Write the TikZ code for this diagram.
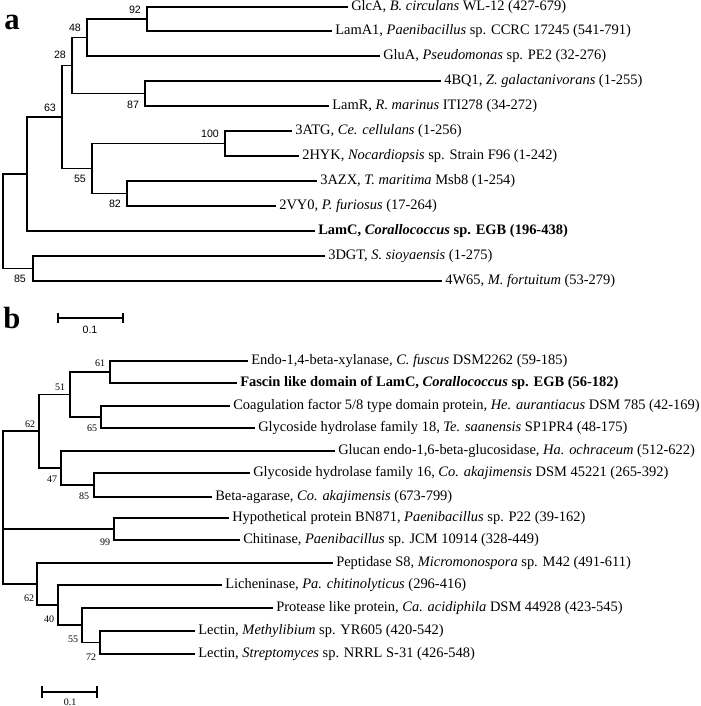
\documentclass[tikz,border=0pt]{standalone}
\usepackage{fontspec}
\setmainfont{Liberation Serif}
\setsansfont{Liberation Sans}
\begin{document}
\begin{tikzpicture}[x=0.75pt,y=-0.75pt,
  br/.style={line width=1pt,line join=miter},
  leaf/.style={anchor=west,inner xsep=2.25pt,inner ysep=0pt,font=\fontsize{10.85}{13}\selectfont,text height=0.7em,text depth=0.2em},
  leafb/.style={leaf},
  bsa/.style={font=\sffamily\fontsize{8}{9}\selectfont,inner sep=0pt},
  bsb/.style={font=\fontsize{7.5}{8.5}\selectfont,inner sep=0pt},
  panel/.style={font=\bfseries\fontsize{23}{25}\selectfont,inner sep=0pt}]
\useasboundingbox (0,0) rectangle (700,706);
% ---------- panel a ----------
\node[panel] (pa) at (12,22) {a};
\coordinate (ra) at (3,221);
\coordinate (a27) at (27,174);
\coordinate (a63) at (62,117);
\coordinate (a28) at (72,65.5);
\coordinate (a48) at (87,37.5);
\coordinate (a92) at (147,19);
\coordinate (a87) at (145,93.5);
\coordinate (a55) at (92,168.5);
\coordinate (a100) at (225,143.5);
\coordinate (a82) at (127,193.5);
\coordinate (a85) at (33,268.5);
\node[leaf] (l1) at (348,7) {GlcA, \textit{B. circulans} WL-12 (427-679)};
\node[leaf] (l2) at (332,31) {LamA1, \textit{Paenibacillus} sp. CCRC 17245 (541-791)};
\node[leaf] (l3) at (380,56) {GluA, \textit{Pseudomonas} sp. PE2 (32-276)};
\node[leaf] (l4) at (441,81) {4BQ1, \textit{Z. galactanivorans} (1-255)};
\node[leaf] (l5) at (329,106) {LamR, \textit{R. marinus} ITI278 (34-272)};
\node[leaf] (l6) at (292,131) {3ATG, \textit{Ce. cellulans} (1-256)};
\node[leaf] (l7) at (299,156) {2HYK, \textit{Nocardiopsis} sp. Strain F96 (1-242)};
\node[leaf] (l8) at (317,181) {3AZX, \textit{T. maritima} Msb8 (1-254)};
\node[leaf] (l9) at (276,206) {2VY0, \textit{P. furiosus} (17-264)};
\node[leaf] (l10) at (315,231) {\textbf{LamC, \textit{Corallococcus} sp. EGB (196-438)}};
\node[leaf] (l11) at (325,256) {3DGT, \textit{S. sioyaensis} (1-275)};
\node[leaf] (l12) at (442,281) {4W65, \textit{M. fortuitum} (53-279)};
\draw[br] (ra) |- (a27);
\draw[br] (ra) |- (a85);
\draw[br] (a27) |- (a63);
\draw[br] (a27) |- (l10.west);
\draw[br] (a63) |- (a28);
\draw[br] (a63) |- (a55);
\draw[br] (a28) |- (a48);
\draw[br] (a28) |- (a87);
\draw[br] (a48) |- (a92);
\draw[br] (a48) |- (l3.west);
\draw[br] (a92) |- (l1.west);
\draw[br] (a92) |- (l2.west);
\draw[br] (a87) |- (l4.west);
\draw[br] (a87) |- (l5.west);
\draw[br] (a55) |- (a100);
\draw[br] (a55) |- (a82);
\draw[br] (a100) |- (l6.west);
\draw[br] (a100) |- (l7.west);
\draw[br] (a82) |- (l8.west);
\draw[br] (a82) |- (l9.west);
\draw[br] (a85) |- (l11.west);
\draw[br] (a85) |- (l12.west);
\node[bsa] (ba92) at (135,10) {92};
\node[bsa] (ba48) at (75,28) {48};
\node[bsa] (ba28) at (60,55) {28};
\node[bsa] (ba87) at (133,105) {87};
\node[bsa] (ba63) at (50,108) {63};
\node[bsa] (ba100) at (210,134) {100};
\node[bsa] (ba55) at (80,179) {55};
\node[bsa] (ba82) at (115,204) {82};
\node[bsa] (ba85) at (20,279) {85};
% scale a
\coordinate (sa1) at (58,318);
\coordinate (sa2) at (123,318);
\draw[br] (sa1) -- (sa2);
\draw[br] ([yshift=3.4pt]sa1) -- ([yshift=-3.4pt]sa1);
\draw[br] ([yshift=3.4pt]sa2) -- ([yshift=-3.4pt]sa2);
\node[bsa] (sla) at (90,330) {0.1};
% ---------- panel b ----------
\node[panel] (pb) at (12,318) {b};
\coordinate (rb) at (3,507.5);
\coordinate (b62) at (39,431);
\coordinate (b51) at (70,394.5);
\coordinate (b61) at (110,372);
\coordinate (b65) at (101,417);
\coordinate (b47) at (61,468);
\coordinate (b85) at (94,485);
\coordinate (b99) at (114,529);
\coordinate (b62l) at (37,584);
\coordinate (b40) at (58,605);
\coordinate (b55) at (82,625);
\coordinate (b72) at (100,642.5);
\node[leafb] (m1) at (248,361) {Endo-1,4-beta-xylanase, \textit{C. fuscus} DSM2262 (59-185)};
\node[leafb] (m2) at (237,383) {\textbf{Fascin like domain of LamC, \textit{Corallococcus} sp. EGB (56-182)}};
\node[leafb] (m3) at (230,406) {Coagulation factor 5/8 type domain protein, \textit{He. aurantiacus} DSM 785 (42-169)};
\node[leafb] (m4) at (255,428) {Glycoside hydrolase family 18, \textit{Te. saanensis} SP1PR4 (48-175)};
\node[leafb] (m5) at (335,451) {Glucan endo-1,6-beta-glucosidase, \textit{Ha. ochraceum} (512-622)};
\node[leafb] (m6) at (250,473) {Glycoside hydrolase family 16, \textit{Co. akajimensis} DSM 45221 (265-392)};
\node[leafb] (m7) at (212,497) {Beta-agarase, \textit{Co. akajimensis} (673-799)};
\node[leafb] (m8) at (229,518) {Hypothetical protein BN871, \textit{Paenibacillus} sp. P22 (39-162)};
\node[leafb] (m9) at (240,540) {Chitinase, \textit{Paenibacillus} sp. JCM 10914 (328-449)};
\node[leafb] (m10) at (333,563) {Peptidase S8, \textit{Micromonospora} sp. M42 (491-611)};
\node[leafb] (m11) at (222,585) {Licheninase, \textit{Pa. chitinolyticus} (296-416)};
\node[leafb] (m12) at (273,608) {Protease like protein, \textit{Ca. acidiphila} DSM 44928 (423-545)};
\node[leafb] (m13) at (195,631) {Lectin, \textit{Methylibium} sp. YR605 (420-542)};
\node[leafb] (m14) at (195,654) {Lectin, \textit{Streptomyces} sp. NRRL S-31 (426-548)};
\draw[br] (rb) |- (b62);
\draw[br] (rb) |- (b99);
\draw[br] (rb) |- (b62l);
\draw[br] (b62) |- (b51);
\draw[br] (b62) |- (b47);
\draw[br] (b51) |- (b61);
\draw[br] (b51) |- (b65);
\draw[br] (b61) |- (m1.west);
\draw[br] (b61) |- (m2.west);
\draw[br] (b65) |- (m3.west);
\draw[br] (b65) |- (m4.west);
\draw[br] (b47) |- (m5.west);
\draw[br] (b47) |- (b85);
\draw[br] (b85) |- (m6.west);
\draw[br] (b85) |- (m7.west);
\draw[br] (b99) |- (m8.west);
\draw[br] (b99) |- (m9.west);
\draw[br] (b62l) |- (m10.west);
\draw[br] (b62l) |- (b40);
\draw[br] (b40) |- (m11.west);
\draw[br] (b40) |- (b55);
\draw[br] (b55) |- (m12.west);
\draw[br] (b55) |- (b72);
\draw[br] (b72) |- (m13.west);
\draw[br] (b72) |- (m14.west);
\node[bsb] (bb61) at (100,363) {61};
\node[bsb] (bb51) at (60,387) {51};
\node[bsb] (bb65) at (92,428) {65};
\node[bsb] (bb62) at (30,424) {62};
\node[bsb] (bb47) at (52,479) {47};
\node[bsb] (bb85) at (84,496) {85};
\node[bsb] (bb99) at (105,542) {99};
\node[bsb] (bb62l) at (29,598) {62};
\node[bsb] (bb40) at (49,619) {40};
\node[bsb] (bb55) at (73,639) {55};
\node[bsb] (bb72) at (91,657) {72};
% scale b
\coordinate (sb1) at (42,692);
\coordinate (sb2) at (97,692);
\draw[br] (sb1) -- (sb2);
\draw[br] ([yshift=4.5pt]sb1) -- ([yshift=-4.5pt]sb1);
\draw[br] ([yshift=4.5pt]sb2) -- ([yshift=-4.5pt]sb2);
\node[bsb] (slb) at (70,702) {0.1};
\end{tikzpicture}
\end{document}
